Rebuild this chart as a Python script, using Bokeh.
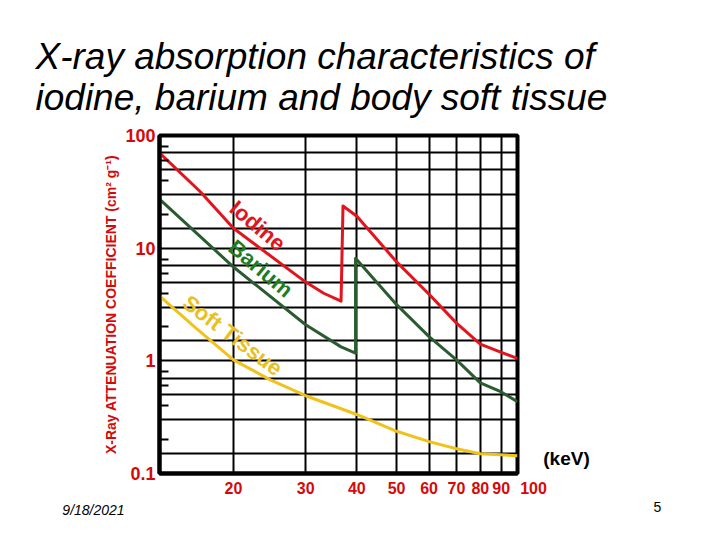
import math
from bokeh.plotting import figure
from bokeh.models import Range1d, FixedTicker, Label, CustomJSTickFormatter
from bokeh.embed import file_html
from bokeh.resources import INLINE

# ---- data ----
iodine_keV = [13.2, 16.6, 20, 30, 33.2, 36.6, 37.0, 40, 50, 60, 70, 80, 90, 98.6]
iodine_mu = [70, 31.7, 15, 5.0, 3.98, 3.39, 23.7, 19.2, 7.55, 3.90, 2.16, 1.41, 1.19, 1.05]

barium_keV = [13.2, 20, 30, 36.6, 39.7, 39.7, 50, 60, 70, 80, 90, 98.6]
barium_mu = [27.2, 6.8, 2.09, 1.33, 1.17, 8.13, 3.15, 1.64, 1.02, 0.637, 0.529, 0.434]

tissue_keV = [13.2, 16.2, 20, 24.6, 30, 40, 50, 60, 70, 80, 98.6]
tissue_mu = [3.77, 1.95, 1.02, 0.678, 0.49, 0.334, 0.237, 0.192, 0.166, 0.15, 0.144]

x_ticks = [20, 30, 40, 50, 60, 70, 80, 90]
y_ticks = [0.1, 1, 10, 100]
y_minor = [0.2, 0.4, 0.6, 0.8, 2, 4, 6, 8, 20, 40, 60, 80]
y_grid = [0.15, 0.3, 0.5, 0.7, 1, 1.5, 3, 5, 7, 10, 15, 30, 50, 70]

RED = "#D40A0A"
LINE_RED = "#E2141E"
LINE_GREEN = "#2B5B30"
TEXT_GREEN = "#1E7D22"
LINE_YELLOW = "#F0C31C"
TEXT_YELLOW = "#E9BF22"

X0, X1, Y0, Y1 = 13.2, 98.6, 0.1, 100
FL, FT, FR, FB = 159, 135, 517, 473
W, H = 704, 524

def dx(px):
    lx0, lx1 = math.log10(X0), math.log10(X1)
    return 10 ** (lx0 + (px - FL) / (FR - FL) * (lx1 - lx0))

def dy(py):
    ly0, ly1 = math.log10(Y0), math.log10(Y1)
    return 10 ** (ly1 - (py - FT) / (FB - FT) * (ly1 - ly0))

p = figure(width=W, height=H, x_axis_type="log", y_axis_type="log",
           x_range=Range1d(X0, X1), y_range=Range1d(Y0, Y1),
           output_backend="svg", toolbar_location=None,
           min_border_left=FL, min_border_right=W - FR,
           min_border_top=FT, min_border_bottom=H - FB)
p.background_fill_color = "white"
p.border_fill_color = "white"
p.outline_line_color = "black"
p.outline_line_width = 4

fmt = "return String(tick)"

# x axis
p.xaxis.ticker = FixedTicker(ticks=x_ticks)
p.xaxis.formatter = CustomJSTickFormatter(code=fmt)
p.xaxis.major_tick_line_color = None
p.xaxis.minor_tick_line_color = None
p.xaxis.axis_line_width = 4
p.xaxis.axis_line_color = "black"
p.xaxis.major_label_text_color = RED
p.xaxis.major_label_text_font = "Liberation Sans"
p.xaxis.major_label_text_font_style = "bold"
p.xaxis.major_label_text_font_size = "16px"
p.xaxis.major_label_standoff = 2

# y axis
p.yaxis.ticker = FixedTicker(ticks=y_ticks, minor_ticks=y_minor)
p.yaxis.formatter = CustomJSTickFormatter(code=fmt)
p.yaxis.major_tick_in = 0
p.yaxis.major_tick_out = 0
p.yaxis.minor_tick_in = 9
p.yaxis.minor_tick_out = 0
p.yaxis.minor_tick_line_width = 2
p.yaxis.minor_tick_line_color = "black"
p.yaxis.axis_line_width = 4
p.yaxis.axis_line_color = "black"
p.yaxis.major_label_text_color = RED
p.yaxis.major_label_text_font = "Liberation Sans"
p.yaxis.major_label_text_font_style = "bold"
p.yaxis.major_label_text_font_size = "18px"
p.yaxis.major_label_standoff = 4
p.yaxis.axis_label = "X-Ray ATTENUATION COEFFICIENT (cm\u00b2 g\u207b\u00b9)"
p.yaxis.axis_label_text_color = RED
p.yaxis.axis_label_text_font = "Liberation Sans"
p.yaxis.axis_label_text_font_style = "bold"
p.yaxis.axis_label_text_font_size = "14px"
p.yaxis.axis_label_standoff = 3

# grids
p.xgrid.ticker = FixedTicker(ticks=x_ticks)
p.ygrid.ticker = FixedTicker(ticks=y_grid)
for g in (p.xgrid, p.ygrid):
    g.grid_line_color = "black"
    g.grid_line_width = 2
    g.grid_line_alpha = 1.0

# curves
p.line(tissue_keV, tissue_mu, line_color=LINE_YELLOW, line_width=3, line_join="round")
p.line(barium_keV, barium_mu, line_color=LINE_GREEN, line_width=3, line_join="round")
p.line(iodine_keV, iodine_mu, line_color=LINE_RED, line_width=3, line_join="round")

# curve labels
def curve_label(txt, x, y, ang, col):
    p.add_layout(Label(x=x, y=y, text=txt, angle=ang, angle_units="deg",
                       text_align="center", text_baseline="middle",
                       text_color=col, text_font="Liberation Sans",
                       text_font_style="bold", text_font_size="22px"))

curve_label("Iodine", 22.9, 15.8, -40, LINE_RED)
curve_label("Barium", 23.3, 6.6, -40, TEXT_GREEN)
curve_label("Soft Tissue", 19.9, 1.68, -37, TEXT_YELLOW)

# page texts: labels held in side panels (not clipped to the frame),
# placed through the plot scales
def page_label(txt, px, py, size, color="black", style="normal", align="center",
               side="right"):
    p.add_layout(Label(x=dx(px), y=dy(py), text=txt, text_align=align,
                       text_baseline="middle", text_color=color,
                       text_font="Liberation Sans", text_font_style=style,
                       text_font_size=size), side)

page_label("X-ray absorption characteristics of", 35, 56, "37px", style="italic",
           align="left", side="above")
page_label("iodine, barium and body soft tissue", 35, 97, "37px", style="italic",
           align="left", side="above")
page_label("100", 533, 487, "16px", color=RED, style="bold")
page_label("(keV)", 566, 458, "19px", style="bold")
page_label("9/18/2021", 93, 509, "14px", style="italic")
page_label("5", 657, 506, "14px")

open("out.html", "w").write(file_html(p, INLINE))
